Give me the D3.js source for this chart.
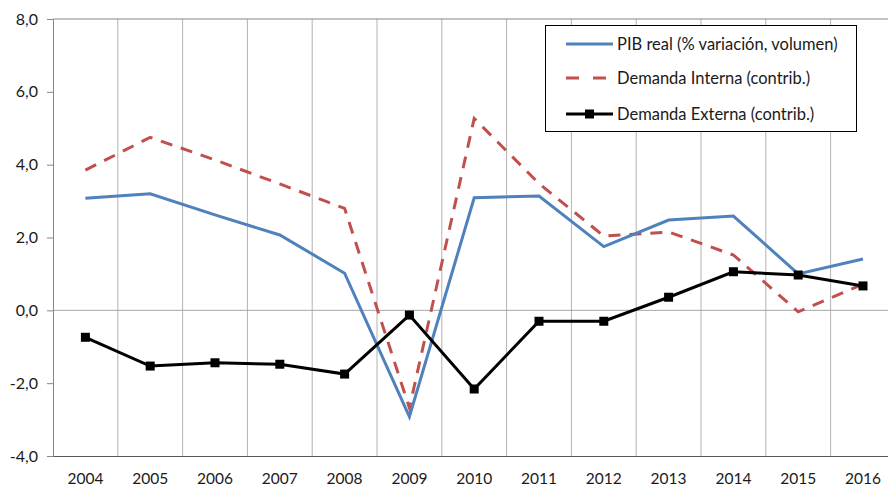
<!doctype html>
<html>
  <head>
    <meta charset="utf-8">
    <title>PIB y demanda</title>
    <script src="https://cdnjs.cloudflare.com/ajax/libs/d3/7.8.5/d3.min.js"></script>
    <style>
      body { margin: 0; background: #fff; }
      text { font-family: Lato, "Open Sans", sans-serif; fill: #1a1a1a; }
    </style>
  </head>
  <body>
    <div id="chart"></div>
    <script>
      // data
      const years = ['2004','2005','2006','2007','2008','2009','2010','2011','2012','2013','2014','2015','2016'];
      const pibReal = [3.08, 3.2, 2.62, 2.07, 1.02, -2.92, 3.09, 3.14, 1.75, 2.48, 2.59, 1.0, 1.41];
      const demInterna = [3.85, 4.75, 4.13, 3.47, 2.8, -2.68, 5.27, 3.48, 2.04, 2.15, 1.52, -0.04, 0.72];
      const demExterna = [-0.74, -1.53, -1.44, -1.48, -1.75, -0.13, -2.16, -0.3, -0.3, 0.36, 1.06, 0.97, 0.67];
      const yTicks = [-4, -2, 0, 2, 4, 6, 8];
      const seriesNames = ['PIB real (% variación, volumen)', 'Demanda Interna (contrib.)', 'Demanda Externa (contrib.)'];

      const width = 888, height = 492;
      const plotLeft = 53, plotTop = 19, plotBottom = 456;
      const band = 64.8;

      const svg = d3.select('#chart')
        .append('svg')
        .attr('width', width)
        .attr('height', height);

      const x = d3.scaleBand()
        .domain(years)
        .range([plotLeft, plotLeft + band * years.length]);

      const y = d3.scaleLinear()
        .domain([-4, 8])
        .range([plotBottom, plotTop]);

      const cx = d => x(d) + x.bandwidth() / 2;
      const fmt = v => d3.format('.1f')(v).replace('.', ',').replace('−', '-');

      // vertical gridlines between categories
      svg.append('g')
        .selectAll('line')
        .data(years)
        .join('line')
        .attr('x1', d => x(d) + x.bandwidth())
        .attr('x2', d => x(d) + x.bandwidth())
        .attr('y1', plotTop)
        .attr('y2', plotBottom)
        .attr('stroke', '#b3b3b3')
        .attr('stroke-width', 1);

      // top border and zero line
      svg.append('line')
        .attr('x1', plotLeft).attr('x2', width)
        .attr('y1', y(8)).attr('y2', y(8))
        .attr('stroke', '#868686');
      svg.append('line')
        .attr('x1', plotLeft).attr('x2', width)
        .attr('y1', y(0)).attr('y2', y(0))
        .attr('stroke', '#a6a6a6');

      // y axis
      const yAxis = svg.append('g')
        .attr('transform', `translate(${plotLeft},0)`)
        .call(d3.axisLeft(y).tickValues(yTicks).tickFormat(fmt).tickSize(6).tickPadding(9));
      yAxis.select('.domain').attr('stroke', '#868686');
      yAxis.selectAll('.tick line').attr('stroke', '#868686');
      yAxis.selectAll('text')
        .attr('font-size', 16)
        .attr('font-family', 'Lato, sans-serif')
        .attr('fill', '#1a1a1a');

      // x axis at the bottom
      const xAxis = svg.append('g')
        .attr('transform', `translate(0,${plotBottom})`)
        .call(d3.axisBottom(x).tickSize(0).tickPadding(17));
      xAxis.select('.domain').attr('stroke', '#595959').attr('stroke-width', 1.2);
      xAxis.selectAll('text')
        .attr('font-size', 15.5)
        .attr('font-family', 'Lato, sans-serif')
        .attr('fill', '#1a1a1a');

      const line = d3.line()
        .x((d, i) => cx(years[i]))
        .y(d => y(d));

      svg.append('path')
        .datum(demInterna)
        .attr('d', line)
        .attr('fill', 'none')
        .attr('stroke', '#C0504D')
        .attr('stroke-width', 3)
        .attr('stroke-dasharray', '12,9');

      svg.append('path')
        .datum(pibReal)
        .attr('d', line)
        .attr('fill', 'none')
        .attr('stroke', '#4F81BD')
        .attr('stroke-width', 3);

      svg.append('path')
        .datum(demExterna)
        .attr('d', line)
        .attr('fill', 'none')
        .attr('stroke', '#000')
        .attr('stroke-width', 3);

      svg.append('g')
        .selectAll('rect')
        .data(demExterna)
        .join('rect')
        .attr('x', (d, i) => cx(years[i]) - 4.5)
        .attr('y', d => y(d) - 4.5)
        .attr('width', 9)
        .attr('height', 9)
        .attr('fill', '#000');

      // legend
      const legend = svg.append('g');
      legend.append('rect')
        .attr('x', 545.5).attr('y', 25.5)
        .attr('width', 311).attr('height', 106)
        .attr('fill', '#fff')
        .attr('stroke', '#000');

      const legendY = [44, 78, 114];
      const items = legend.selectAll('g.item')
        .data(seriesNames)
        .join('g')
        .attr('class', 'item')
        .attr('transform', (d, i) => `translate(0,${legendY[i]})`);

      items.append('line')
        .attr('x1', 566).attr('x2', 613)
        .attr('stroke', (d, i) => ['#4F81BD', '#C0504D', '#000'][i])
        .attr('stroke-width', 3)
        .attr('stroke-dasharray', (d, i) => i === 1 ? '13,14' : null);

      items.filter((d, i) => i === 2)
        .append('rect')
        .attr('x', 585).attr('y', -4.5)
        .attr('width', 9).attr('height', 9)
        .attr('fill', '#000');

      items.append('text')
        .attr('x', 617)
        .attr('dy', '0.35em')
        .attr('font-size', 16.5)
        .text(d => d);
    </script>
  </body>
</html>
